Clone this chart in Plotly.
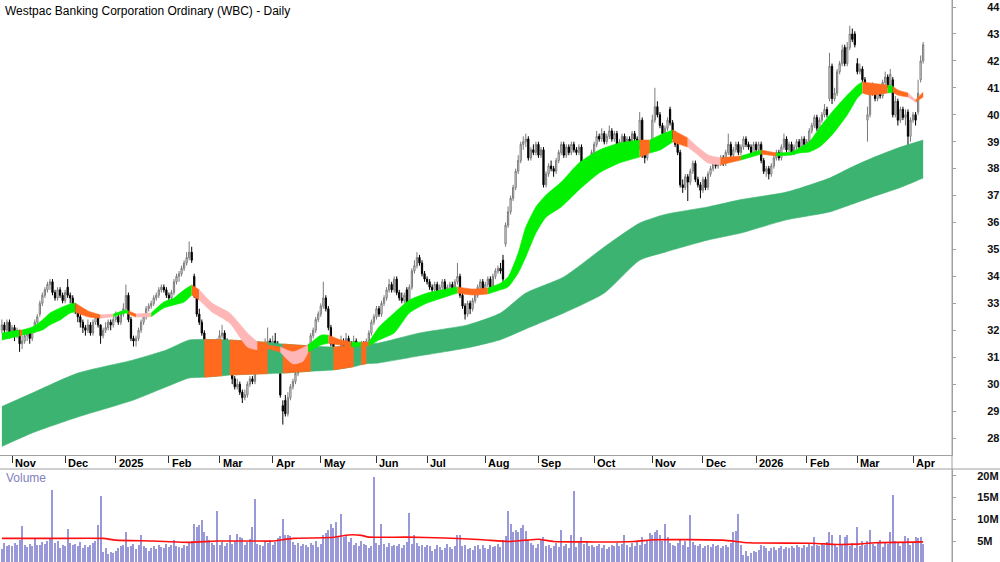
import pandas as pd
import plotly.graph_objects as go

# ---------------- calendar ----------------
holidays = ["2024-12-25", "2024-12-26", "2025-01-01", "2025-01-27", "2025-04-18",
            "2025-04-21", "2025-04-25", "2025-06-09", "2025-12-25", "2025-12-26",
            "2026-01-01", "2026-01-26", "2026-04-03", "2026-04-06"]
dates = pd.bdate_range("2024-10-28", "2026-04-09", freq="C", holidays=holidays)

month_labels = ["Nov", "Dec", "2025", "Feb", "Mar", "Apr", "May", "Jun", "Jul", "Aug",
                "Sep", "Oct", "Nov", "Dec", "2026", "Feb", "Mar", "Apr"]

# ---------------- daily OHLC (AUD) ----------------
opens = [
    32.0, 32.2, 32.0, 32.3, 31.9, 32.1, 31.8, 32.0, 31.5, 31.6,
    31.8, 31.9, 31.7, 32.0, 32.3, 32.6, 33.0, 33.3, 33.5, 33.7,
    33.8, 33.4, 33.2, 33.5, 33.3, 33.1, 33.6, 33.3, 33.2, 32.9,
    32.8, 32.5, 32.3, 32.1, 32.0, 32.2, 31.9, 32.3, 32.5, 32.2,
    31.8, 32.0, 32.1, 32.3, 32.2, 32.4, 32.5, 32.3, 32.6, 32.8,
    33.3, 32.4, 31.7, 31.6, 31.7, 32.0, 32.3, 32.5, 32.8, 32.9,
    33.0, 33.2, 33.3, 33.5, 33.6, 33.5, 33.3, 33.2, 33.4, 33.8,
    34.0, 34.1, 34.3, 34.5, 34.7, 34.9, 34.0, 33.4, 32.6, 32.3,
    31.9, 31.3, 31.0, 31.2, 31.4, 31.3, 31.5, 31.8, 31.9, 31.6,
    31.0, 30.5, 30.2, 29.9, 30.0, 29.7, 29.5, 29.6, 30.0, 30.2,
    30.1, 30.6, 30.8, 31.2, 31.4, 31.5, 31.6, 31.3, 31.6, 31.5,
    30.4, 29.2, 29.4, 28.9, 29.5, 29.9, 30.1, 30.4, 30.7, 31.0,
    31.2, 31.0, 31.4, 31.8, 32.0, 32.4, 32.6, 32.9, 33.2, 32.8,
    32.1, 31.5, 31.0, 30.9, 31.3, 31.6, 31.4, 31.7, 31.5, 31.3,
    31.6, 31.4, 31.2, 31.5, 31.3, 31.6, 31.9, 32.3, 32.5, 32.8,
    32.6, 33.0, 33.2, 33.5, 33.7, 33.5, 33.9, 33.4, 33.2, 33.1,
    33.5, 32.8, 33.6, 34.2, 34.4, 34.7, 34.5, 34.1, 33.9, 33.8,
    33.6, 33.5, 33.7, 33.4, 33.6, 33.8, 33.5, 33.6, 33.7, 33.5,
    33.8, 34.0, 33.3, 32.9, 32.6, 33.0, 32.8, 33.1, 33.3, 33.6,
    33.8, 33.5, 33.7, 33.9, 33.6, 34.0, 34.2, 34.3, 34.6, 35.2,
    35.9, 36.4, 36.9, 37.3, 37.9, 38.3, 38.9, 39.0, 39.1, 38.4,
    38.7, 38.6, 38.9, 38.5, 38.7, 37.4, 37.8, 38.1, 38.0, 37.9,
    38.3, 38.6, 38.9, 38.5, 38.8, 38.6, 38.9, 38.7, 38.6, 38.8,
    37.7, 37.9, 38.2, 38.1, 38.6, 38.9, 39.2, 39.1, 39.3, 39.0,
    39.2, 39.4, 39.1, 39.3, 38.5, 39.0, 39.2, 38.9, 39.1, 39.0,
    39.3, 39.1, 38.8, 39.8, 38.5, 38.4, 38.7, 38.9, 39.8, 40.3,
    40.0, 39.6, 39.3, 39.5, 40.2, 39.7, 39.2, 38.9, 38.6, 37.4,
    37.3, 37.7, 37.5, 37.9, 38.2, 37.6, 37.4, 37.2, 37.6, 37.3,
    37.8, 38.0, 38.3, 38.1, 38.2, 38.4, 38.2, 38.6, 38.9, 38.5,
    38.7, 38.9, 38.6, 38.8, 39.1, 38.9, 38.8, 38.6, 38.9, 38.7,
    38.9, 38.3, 37.9, 38.0, 37.8, 38.1, 38.4, 38.6, 38.4, 38.8,
    39.1, 38.7, 38.9, 38.6, 38.8, 39.0, 38.8, 39.1, 38.9, 39.0,
    39.4, 39.6, 39.9, 39.5, 39.8, 40.0, 40.2, 40.6, 41.8, 40.6,
    40.8, 41.6, 41.9, 42.5, 41.9, 42.5, 43.0, 43.0, 41.9, 41.6,
    41.7, 41.3, 39.8, 40.0, 40.8, 41.0, 40.6, 40.9, 40.7, 41.2,
    41.4, 41.1, 41.3, 40.0, 40.5, 39.8, 40.2, 39.9, 40.1, 39.2,
    39.8, 40.0, 40.1, 41.3, 42.0,
]
highs = [
    32.4, 32.3, 32.4, 32.4, 32.2, 32.2, 32.1, 32.0, 31.8, 31.9,
    32.0, 32.0, 32.1, 32.4, 32.6, 33.1, 33.4, 33.6, 33.8, 33.9,
    33.9, 33.5, 33.6, 33.6, 33.4, 33.5, 33.9, 33.4, 33.3, 33.0,
    32.9, 32.6, 32.4, 32.2, 32.4, 32.3, 32.4, 32.6, 32.6, 32.2,
    32.1, 32.3, 32.4, 32.4, 32.5, 32.7, 32.6, 32.7, 33.0, 33.7,
    33.4, 32.5, 31.8, 31.8, 32.1, 32.4, 32.6, 32.9, 33.0, 33.1,
    33.3, 33.4, 33.6, 33.7, 33.7, 33.6, 33.4, 33.5, 33.9, 34.1,
    34.2, 34.4, 34.6, 34.9, 35.3, 35.1, 34.1, 33.5, 32.8, 32.4,
    32.0, 31.5, 31.4, 31.6, 31.5, 31.7, 32.0, 32.2, 32.0, 31.7,
    31.1, 30.6, 30.3, 30.2, 30.1, 29.8, 29.8, 30.1, 30.3, 30.3,
    30.7, 30.9, 31.3, 31.5, 31.7, 32.1, 31.7, 31.8, 31.9, 31.6,
    30.5, 29.4, 29.6, 29.7, 30.0, 30.2, 30.5, 30.8, 31.1, 31.3,
    31.3, 31.5, 31.9, 32.1, 32.5, 32.7, 33.0, 33.8, 33.3, 32.9,
    32.2, 31.6, 31.1, 31.4, 31.8, 31.7, 31.9, 31.8, 31.6, 31.8,
    31.7, 31.5, 31.6, 31.6, 31.7, 32.0, 32.4, 32.6, 32.9, 32.9,
    33.1, 33.3, 33.6, 33.9, 33.8, 34.0, 34.0, 33.5, 33.4, 33.4,
    33.6, 33.7, 34.3, 34.6, 34.9, 34.8, 34.6, 34.2, 34.0, 33.9,
    33.7, 33.8, 33.8, 33.7, 33.9, 33.9, 33.7, 33.8, 33.8, 33.9,
    34.5, 34.1, 33.4, 33.0, 33.1, 33.1, 33.2, 33.4, 33.7, 33.9,
    33.9, 33.8, 34.0, 34.0, 34.1, 34.3, 34.4, 34.5, 34.8, 36.0,
    36.6, 37.0, 37.4, 38.0, 38.5, 39.0, 39.2, 39.3, 39.2, 38.8,
    38.9, 39.0, 39.0, 38.8, 38.8, 37.9, 38.2, 38.3, 38.1, 38.4,
    38.7, 39.0, 39.0, 38.9, 38.9, 39.0, 39.0, 38.8, 38.9, 38.9,
    38.0, 38.3, 38.3, 38.7, 39.0, 39.4, 39.3, 39.5, 39.4, 39.3,
    39.6, 39.5, 39.4, 39.4, 39.1, 39.3, 39.3, 39.2, 39.2, 39.4,
    39.4, 39.2, 40.1, 39.9, 38.7, 38.8, 39.0, 40.0, 41.0, 40.5,
    40.1, 39.7, 39.6, 39.9, 40.3, 39.8, 39.4, 39.0, 38.7, 37.6,
    37.8, 37.8, 38.0, 38.3, 38.3, 37.7, 37.5, 37.7, 37.7, 37.9,
    38.1, 38.4, 38.4, 38.3, 38.5, 38.5, 38.7, 39.3, 39.0, 38.8,
    39.0, 39.0, 38.9, 39.2, 39.2, 39.0, 38.9, 39.0, 39.0, 39.0,
    39.0, 38.4, 38.1, 38.1, 38.2, 38.5, 38.7, 38.7, 38.9, 39.3,
    39.2, 39.0, 39.0, 38.9, 39.1, 39.1, 39.2, 39.2, 39.1, 39.5,
    39.7, 40.0, 40.0, 39.9, 40.1, 40.4, 40.3, 42.3, 41.9, 41.0,
    41.7, 42.0, 42.6, 42.6, 42.7, 43.3, 43.2, 43.1, 42.1, 41.9,
    41.8, 41.4, 40.3, 41.0, 41.2, 41.1, 41.0, 41.0, 41.3, 41.6,
    41.5, 41.7, 41.4, 40.7, 40.6, 40.3, 40.3, 40.2, 40.2, 39.9,
    40.1, 40.1, 41.3, 42.2, 42.7,
]
lows = [
    31.9, 31.8, 31.9, 31.7, 31.8, 31.6, 31.7, 31.2, 31.3, 31.5,
    31.6, 31.5, 31.6, 31.9, 32.2, 32.5, 32.9, 33.2, 33.4, 33.5,
    33.3, 33.1, 33.1, 33.2, 33.0, 33.0, 33.2, 33.0, 32.8, 32.6,
    32.3, 32.1, 31.9, 31.8, 31.9, 31.8, 31.8, 32.2, 32.1, 31.5,
    31.7, 31.9, 32.0, 32.0, 32.1, 32.3, 32.2, 32.2, 32.5, 32.7,
    32.3, 31.6, 31.4, 31.4, 31.6, 31.9, 32.2, 32.4, 32.7, 32.8,
    32.9, 33.1, 33.2, 33.4, 33.4, 33.2, 33.1, 33.1, 33.3, 33.7,
    33.8, 34.0, 34.2, 34.4, 34.6, 34.5, 33.2, 32.5, 32.2, 31.8,
    31.2, 30.9, 30.9, 31.1, 31.1, 31.2, 31.4, 31.7, 31.5, 30.9,
    30.4, 30.0, 29.8, 29.8, 29.6, 29.3, 29.4, 29.5, 29.9, 30.0,
    30.0, 30.5, 30.7, 31.1, 31.3, 31.4, 31.2, 31.2, 31.4, 30.9,
    29.5, 28.5, 28.8, 28.8, 29.4, 29.8, 30.0, 30.3, 30.6, 30.9,
    30.9, 30.9, 31.3, 31.7, 31.9, 32.3, 32.5, 32.8, 32.7, 32.0,
    31.4, 30.6, 30.7, 30.8, 31.2, 31.3, 31.3, 31.4, 31.2, 31.2,
    31.3, 31.1, 31.1, 31.2, 31.2, 31.5, 31.8, 32.2, 32.4, 32.5,
    32.5, 32.9, 33.1, 33.4, 33.4, 33.4, 33.3, 33.1, 33.0, 33.0,
    32.7, 32.7, 33.5, 34.1, 34.3, 34.4, 34.0, 33.8, 33.7, 33.5,
    33.4, 33.4, 33.3, 33.3, 33.5, 33.4, 33.4, 33.5, 33.4, 33.4,
    33.7, 33.2, 32.8, 32.4, 32.5, 32.6, 32.7, 33.0, 33.2, 33.5,
    33.4, 33.4, 33.6, 33.5, 33.5, 33.9, 34.1, 34.1, 33.8, 35.1,
    35.8, 36.3, 36.8, 37.2, 37.8, 38.2, 38.7, 38.8, 38.3, 38.3,
    38.5, 38.5, 38.4, 38.4, 37.3, 37.3, 37.7, 37.9, 37.7, 37.8,
    38.2, 38.5, 38.4, 38.4, 38.5, 38.5, 38.6, 38.5, 38.5, 37.6,
    37.6, 37.8, 38.0, 38.0, 38.5, 38.8, 39.0, 39.0, 38.9, 38.9,
    39.1, 39.0, 39.0, 38.4, 38.4, 38.9, 38.8, 38.8, 38.9, 38.9,
    39.0, 38.7, 38.7, 38.4, 38.2, 38.3, 38.6, 38.8, 39.7, 39.9,
    39.5, 39.2, 39.2, 39.4, 39.6, 39.1, 38.8, 38.5, 37.3, 37.1,
    37.2, 36.8, 37.4, 37.8, 37.5, 37.3, 36.9, 37.1, 37.2, 37.2,
    37.7, 37.9, 38.0, 38.0, 38.1, 38.1, 38.1, 38.5, 38.4, 38.4,
    38.6, 38.5, 38.5, 38.7, 38.8, 38.7, 38.5, 38.5, 38.6, 38.6,
    38.2, 37.8, 37.7, 37.6, 37.7, 38.0, 38.3, 38.3, 38.3, 38.7,
    38.6, 38.6, 38.5, 38.5, 38.7, 38.7, 38.7, 38.8, 38.8, 38.9,
    39.3, 39.5, 39.4, 39.4, 39.7, 39.9, 39.9, 40.5, 40.4, 40.5,
    40.7, 41.5, 41.8, 41.8, 41.8, 42.4, 42.7, 42.5, 41.5, 41.5,
    41.2, 40.9, 39.0, 39.9, 40.7, 40.5, 40.5, 40.6, 40.6, 41.1,
    41.0, 41.0, 39.9, 39.9, 39.6, 39.7, 39.8, 39.6, 38.6, 39.0,
    39.7, 39.6, 40.0, 41.2, 41.9,
]
closes = [
    32.2, 32.0, 32.3, 31.9, 32.1, 31.8, 32.0, 31.5, 31.6, 31.8,
    31.9, 31.7, 32.0, 32.3, 32.5, 33.0, 33.3, 33.5, 33.7, 33.8,
    33.4, 33.2, 33.5, 33.3, 33.1, 33.4, 33.3, 33.2, 32.9, 32.8,
    32.5, 32.3, 32.1, 32.0, 32.2, 31.9, 32.3, 32.5, 32.2, 31.8,
    32.0, 32.1, 32.3, 32.2, 32.4, 32.5, 32.3, 32.6, 32.8, 33.3,
    32.4, 31.7, 31.6, 31.7, 32.0, 32.3, 32.5, 32.8, 32.9, 33.0,
    33.2, 33.3, 33.5, 33.6, 33.5, 33.3, 33.2, 33.4, 33.8, 34.0,
    34.1, 34.3, 34.5, 34.7, 34.9, 34.6, 33.4, 32.6, 32.3, 31.9,
    31.3, 31.0, 31.2, 31.4, 31.3, 31.5, 31.8, 31.9, 31.6, 31.0,
    30.5, 30.2, 29.9, 30.0, 29.7, 29.5, 29.6, 30.0, 30.2, 30.1,
    30.6, 30.8, 31.2, 31.4, 31.5, 31.6, 31.3, 31.6, 31.5, 31.0,
    29.6, 29.0, 28.9, 29.5, 29.9, 30.1, 30.4, 30.7, 31.0, 31.2,
    31.0, 31.4, 31.8, 32.0, 32.4, 32.6, 32.9, 33.2, 32.8, 32.1,
    31.5, 31.0, 30.9, 31.3, 31.6, 31.4, 31.7, 31.5, 31.3, 31.6,
    31.4, 31.2, 31.5, 31.3, 31.6, 31.9, 32.3, 32.5, 32.8, 32.6,
    33.0, 33.2, 33.5, 33.7, 33.5, 33.9, 33.4, 33.2, 33.1, 33.3,
    32.8, 33.6, 34.2, 34.4, 34.7, 34.5, 34.1, 33.9, 33.8, 33.6,
    33.5, 33.7, 33.4, 33.6, 33.8, 33.5, 33.6, 33.7, 33.5, 33.8,
    34.0, 33.3, 32.9, 32.6, 33.0, 32.8, 33.1, 33.3, 33.6, 33.8,
    33.5, 33.7, 33.9, 33.6, 34.0, 34.2, 34.3, 34.2, 33.9, 35.9,
    36.4, 36.9, 37.3, 37.9, 38.3, 38.9, 39.0, 39.1, 38.4, 38.7,
    38.6, 38.9, 38.5, 38.7, 37.4, 37.8, 38.1, 38.0, 37.9, 38.3,
    38.6, 38.9, 38.5, 38.8, 38.6, 38.9, 38.7, 38.6, 38.8, 37.7,
    37.9, 38.2, 38.1, 38.6, 38.9, 39.2, 39.1, 39.3, 39.0, 39.2,
    39.4, 39.1, 39.3, 38.5, 39.0, 39.2, 38.9, 39.1, 39.0, 39.3,
    39.1, 38.8, 39.8, 38.5, 38.4, 38.7, 38.9, 39.8, 40.3, 40.0,
    39.6, 39.3, 39.5, 39.8, 39.7, 39.2, 38.9, 38.6, 37.4, 37.3,
    37.7, 37.5, 37.9, 38.2, 37.6, 37.4, 37.2, 37.6, 37.3, 37.8,
    38.0, 38.3, 38.1, 38.2, 38.4, 38.2, 38.6, 38.9, 38.5, 38.7,
    38.9, 38.6, 38.8, 39.1, 38.9, 38.8, 38.6, 38.9, 38.7, 38.9,
    38.3, 37.9, 38.0, 37.8, 38.1, 38.4, 38.6, 38.4, 38.8, 39.1,
    38.7, 38.9, 38.6, 38.8, 39.0, 38.8, 39.1, 38.9, 39.0, 39.4,
    39.6, 39.9, 39.5, 39.8, 40.0, 40.2, 40.0, 41.8, 40.6, 40.8,
    41.6, 41.9, 42.4, 41.9, 42.5, 43.0, 42.8, 42.6, 41.6, 41.7,
    41.3, 41.0, 40.0, 40.8, 41.0, 40.6, 40.9, 40.7, 41.2, 41.4,
    41.1, 41.5, 40.0, 40.5, 39.8, 40.2, 39.9, 40.0, 39.2, 39.8,
    40.0, 39.8, 40.8, 42.0, 42.6,
]

# ---------------- daily volume (millions of shares) ----------------
volume_m = [
    3.2, 4.5, 3.8, 4.2, 3.9, 4.6, 4.0, 5.2, 8.4, 4.1,
    3.6, 4.4, 3.9, 5.5, 4.2, 4.0, 4.8, 4.3, 5.0, 5.8,
    16.7, 4.5, 4.9, 3.5, 4.1, 3.8, 7.7, 4.6, 4.0, 4.4,
    3.9, 4.7, 3.5, 4.1, 3.7, 4.2, 4.5, 4.9, 8.7, 15.3,
    2.5, 3.4, 2.0, 2.4, 2.2, 2.6, 3.5, 3.9, 4.2, 7.0,
    3.6, 3.9, 4.3, 3.2, 4.1, 6.3, 3.8, 3.3, 2.8, 3.5,
    3.9, 3.1, 4.2, 3.6, 3.3, 4.4, 3.7, 4.0, 5.2, 3.9,
    3.6, 3.4, 4.0, 3.8, 4.6, 5.0, 8.8, 8.2, 8.6, 9.8,
    7.0, 6.2, 5.3, 4.6, 4.2, 11.9, 4.0, 4.8, 3.9, 4.5,
    6.5, 4.4, 5.0, 6.7, 6.0, 5.6, 4.2, 4.8, 5.4, 8.2,
    14.6, 4.4, 4.0, 3.8, 4.9, 4.5, 5.2, 4.1, 4.8, 5.6,
    6.2, 10.0, 6.3, 6.5, 6.2, 4.8, 4.2, 4.6, 3.9, 4.3,
    4.0, 3.7, 4.5, 4.1, 4.9, 3.6, 4.4, 6.5, 6.8, 7.5,
    9.0, 8.0, 9.3, 6.0, 11.2, 6.0, 6.5, 4.8, 5.8, 4.2,
    4.6, 3.9, 5.0, 4.4, 4.1, 3.3, 3.9, 19.7, 4.5, 4.0,
    8.9, 4.3, 3.7, 4.5, 3.9, 4.2, 3.8, 4.4, 3.5, 4.0,
    4.7, 11.4, 4.3, 6.3, 4.5, 3.9, 4.1, 3.6, 4.2, 3.8,
    2.7, 3.2, 4.1, 3.7, 2.9, 3.3, 4.4, 3.6, 3.1, 3.9,
    6.3, 6.3, 3.8, 4.0, 3.2, 3.5, 2.9, 3.8, 4.2, 3.1,
    4.0, 3.4, 3.2, 4.1, 3.6, 3.9, 4.3, 3.7, 5.3, 6.1,
    12.0, 9.0, 7.0, 7.5, 7.0, 8.0, 8.6, 7.3, 5.2, 4.6,
    4.2, 3.5, 4.4, 5.2, 6.0, 3.8, 4.1, 3.5, 3.9, 4.6,
    3.7, 7.5, 3.9, 4.3, 3.4, 6.3, 16.4, 3.6, 4.8, 6.0,
    4.3, 4.9, 3.8, 4.1, 3.6, 3.9, 4.4, 3.4, 4.0, 3.2,
    3.7, 4.2, 3.9, 4.6, 3.8, 4.3, 6.4, 4.0, 3.6, 4.5,
    3.9, 4.8, 4.2, 6.0, 4.4, 5.1, 6.8, 6.5, 7.0, 7.5,
    6.5, 5.0, 9.0, 6.0, 4.5, 4.0, 3.8, 4.6, 5.4, 4.1,
    4.9, 3.6, 11.0, 4.7, 4.1, 3.8, 4.3, 3.4, 3.9, 4.2,
    3.6, 4.4, 3.9, 4.1, 3.5, 3.8, 4.2, 3.6, 4.5, 7.0,
    7.2, 11.1, 4.0, 1.8, 2.6, 1.5, 2.2, 2.8, 2.5, 3.0,
    4.2, 3.9, 3.5, 2.8, 3.3, 3.6, 2.9, 3.4, 3.8, 3.1,
    3.6, 3.3, 3.9, 3.5, 4.0, 3.7, 3.4, 4.1, 3.6, 4.3,
    3.9, 6.0, 4.2, 3.8, 4.5, 4.1, 4.8, 7.0, 6.3, 4.4,
    3.6, 6.5, 4.2, 6.0, 6.5, 3.9, 4.6, 3.4, 8.2, 3.8,
    4.9, 4.2, 5.0, 7.5, 4.3, 3.9, 4.7, 5.2, 3.6, 4.8,
    4.4, 7.0, 15.6, 5.1, 4.5, 3.9, 4.6, 6.1, 5.8, 4.0,
    4.5, 6.0, 5.6, 6.0, 4.4,
]

# volume moving-average line (day index, millions)
vma_day = [0, 20, 40, 45, 60, 74, 85, 100, 107, 115, 130, 137, 142, 145, 160, 175,
           190, 200, 207, 212, 218, 230, 250, 258, 285, 295, 320, 330, 338, 345, 364]
vma_val = [5.6, 5.6, 5.6, 5.2, 5.0, 4.7, 5.0, 5.0, 5.0, 5.6, 5.8, 6.4, 6.3, 5.9, 5.9, 5.7,
           5.3, 4.9, 5.2, 5.4, 4.9, 4.8, 4.9, 5.3, 5.2, 4.6, 4.5, 4.2, 4.3, 4.6, 4.8]

# long-term MA band (day index, upper, lower)
lb_day = [0, 12, 30, 52, 65, 74, 80, 87, 90, 105, 111, 122, 131, 139, 142, 144, 149,
          165, 184, 197, 207, 222, 238, 252, 262, 279, 292, 310, 327, 335, 344, 355, 364]
lb_top = [29.17, 29.67, 30.41, 30.90, 31.27, 31.64, 31.66, 31.65, 31.64, 31.55, 31.49,
          31.42, 31.38, 31.42, 31.46, 31.50, 31.53, 31.90, 32.20, 32.64, 33.38, 33.98,
          35.09, 35.98, 36.30, 36.58, 36.85, 37.13, 37.65, 38.02, 38.40, 38.80, 39.06]
lb_bot = [27.69, 28.19, 28.78, 29.41, 29.90, 30.23, 30.26, 30.31, 30.34, 30.39, 30.41,
          30.48, 30.53, 30.65, 30.72, 30.76, 30.79, 31.05, 31.35, 31.65, 32.05, 32.64,
          33.38, 34.60, 34.90, 35.35, 35.61, 36.10, 36.39, 36.65, 36.95, 37.30, 37.65]
# periods where long band is shown in orange (start day, end day)
lb_orange = [(80, 87), (90, 105), (111, 122), (131, 139), (142, 144)]

# short-term MA ribbon (day index, upper, lower, state of following stretch)
st_day = [0, 7, 8, 12, 16, 19, 23, 27, 29, 34, 39, 44, 49, 50, 53, 59, 64, 68, 72, 75,
          78, 83, 90, 97, 101, 105, 110, 115, 119, 121, 126, 129, 134, 138, 142, 145, 149,
          155, 161, 168, 174, 180, 186, 192, 197, 200, 204, 207, 211, 215, 221, 228, 236,
          244, 252, 256, 260, 265, 271, 275, 279, 284, 292, 300, 306, 312, 315, 319, 323,
          328, 334, 338, 340, 343, 350, 352, 354, 358, 361, 364]
st_top = [31.90, 32.01, 32.01, 32.12, 32.38, 32.64, 32.83, 32.98, 33.01, 32.72,
          32.57, 32.60, 32.75, 32.72, 32.60, 32.64, 33.05, 33.20, 33.50, 33.68,
          33.50, 33.01, 32.64, 31.90, 31.56, 31.45, 31.38, 31.20, 31.35, 31.45,
          31.82, 31.82, 31.64, 31.56, 31.56, 31.56, 32.12, 32.64, 33.12, 33.38,
          33.50, 33.61, 33.53, 33.57, 33.75, 33.98, 34.87, 35.83, 36.58, 37.02,
          37.50, 38.21, 38.69, 38.95, 39.06, 39.06, 39.25, 39.43, 39.14, 38.80,
          38.51, 38.40, 38.47, 38.69, 38.58, 38.62, 38.77, 38.99, 39.51, 40.10,
          40.73, 41.10, 41.22, 41.18, 41.10, 41.06, 40.92, 40.81, 40.55, 40.84]
st_bot = [31.64, 31.79, 31.82, 31.90, 32.01, 32.20, 32.38, 32.64, 32.68, 32.50,
          32.45, 32.50, 32.64, 32.60, 32.49, 32.50, 32.83, 32.94, 33.05, 33.31,
          33.12, 32.68, 32.27, 31.38, 31.27, 31.31, 31.19, 30.75, 30.85, 31.19,
          31.45, 31.52, 31.45, 31.38, 31.42, 31.42, 31.64, 31.90, 32.64, 33.01,
          33.20, 33.38, 33.31, 33.35, 33.50, 33.61, 34.13, 34.72, 35.61, 36.20,
          36.58, 37.21, 37.84, 38.21, 38.43, 38.58, 38.69, 38.99, 38.80, 38.51,
          38.21, 38.14, 38.32, 38.54, 38.47, 38.51, 38.58, 38.62, 38.80, 39.25,
          39.99, 40.62, 40.81, 40.73, 40.81, 40.84, 40.73, 40.66, 40.47, 40.66]
st_state = list("goggggggoo" "pggopggggo" "ppppoopppg" "googoggggg"
                "googgggggg" "ggggoggopp" "pogogggggg" "ggoogoopoo")

price_ticks = list(range(28, 45))
vol_ticks = [5, 10, 15, 20]
vol_tick_text = ["5M", "10M", "15M", "20M"]

# ---------------- styling ----------------
FONT = "Liberation Sans, Arial, sans-serif"
W, H = 1000, 562
PLOT_R = 952
C_LONG = "#3cb371"
STATE_COL = {"g": "#00f000", "o": "#ff6a1f", "p": "#ffb6b6"}

n = min(len(dates), len(opens), len(highs), len(lows), len(closes), len(volume_m))
days = list(range(n))

fig = go.Figure()


def add_band(xs, top, bot, color, smooth):
    shape = "spline" if smooth else "linear"
    fig.add_trace(go.Scatter(x=xs, y=bot, mode="lines", hoverinfo="skip",
                             line=dict(width=0.6, color=color, shape=shape, smoothing=0.6),
                             xaxis="x", yaxis="y"))
    fig.add_trace(go.Scatter(x=xs, y=top, mode="lines", hoverinfo="skip", fill="tonexty",
                             fillcolor=color,
                             line=dict(width=0.6, color=color, shape=shape, smoothing=0.6),
                             xaxis="x", yaxis="y"))


# long band
add_band(lb_day, lb_top, lb_bot, C_LONG, True)
for a, b in lb_orange:
    sel = [k for k, d in enumerate(lb_day) if a <= d <= b]
    add_band([lb_day[k] for k in sel], [lb_top[k] for k in sel],
             [lb_bot[k] for k in sel], STATE_COL["o"], False)

# short ribbon, grouped by state
k = 0
m = len(st_day)
while k < m - 1:
    s = st_state[k]
    e = k
    while e < m - 1 and st_state[e] == s:
        e += 1
    add_band(st_day[k:e + 1], st_top[k:e + 1], st_bot[k:e + 1], STATE_COL[s], True)
    k = e

# candles
fig.add_trace(go.Candlestick(x=days, open=opens[:n], high=highs[:n], low=lows[:n],
                             close=closes[:n],
                             increasing=dict(line=dict(color="#7a7a7a", width=1),
                                             fillcolor="#ffffff"),
                             decreasing=dict(line=dict(color="#000000", width=1),
                                             fillcolor="#000000"),
                             whiskerwidth=0, xaxis="x", yaxis="y"))

# volume
fig.add_trace(go.Bar(x=days, y=volume_m[:n], marker=dict(color="#9999d9", line=dict(width=0)),
                     width=0.42, xaxis="x2", yaxis="y2"))
fig.add_trace(go.Scatter(x=vma_day, y=vma_val, mode="lines",
                         line=dict(color="#ff1010", width=1.6, shape="spline", smoothing=0.5),
                         xaxis="x2", yaxis="y2"))

# ---------------- layout ----------------
month_first = pd.Series(range(len(dates)), index=dates).groupby(
    [dates.year, dates.month]).min().tolist()[1:]
month_first = month_first[:len(month_labels)]

x_lo = -1.875 / 2.531
x_hi = (PLOT_R - 1.875) / 2.531
price_lo = 44 - (455 - 7) / 26.94
price_hi = 44 + 7 / 26.94
vol_hi = (562.8 - 469) / 4.353
vol_lo = (562.8 - 562) / 4.353

fig.update_layout(
    width=W, height=H, template="none",
    margin=dict(l=0, r=W - PLOT_R, t=0, b=0),
    paper_bgcolor="white", plot_bgcolor="white", showlegend=False,
    bargap=0,
    xaxis=dict(domain=[0, 1], range=[x_lo, x_hi], anchor="y",
               rangeslider=dict(visible=False), showgrid=False, zeroline=False,
               showline=True, linecolor="#a0a0a0", linewidth=1,
               tickmode="array", tickvals=month_first, showticklabels=False,
               ticks="outside", ticklen=7, tickcolor="#333333", tickwidth=1),
    xaxis2=dict(domain=[0, 1], range=[x_lo, x_hi], anchor="y2", matches="x",
                showgrid=False, zeroline=False, showline=False, showticklabels=False,
                ticks=""),
    yaxis=dict(domain=[1 - 455 / H, 1], range=[price_lo, price_hi], side="right",
               anchor="x", showgrid=False, zeroline=False, showline=True,
               linecolor="#a0a0a0", linewidth=1, tickmode="array",
               tickvals=price_ticks, ticktext=[f"<b>{v}</b>" for v in price_ticks],
               ticks="outside", ticklen=3, tickcolor="#a0a0a0",
               tickfont=dict(family=FONT, size=11, color="#111111"),
               ticklabelstandoff=29),
    yaxis2=dict(domain=[0, 1 - 469 / H], range=[vol_lo, vol_hi], side="right",
                anchor="x2", showgrid=False, zeroline=False, showline=True,
                linecolor="#a0a0a0", linewidth=1, tickmode="array",
                tickvals=vol_ticks, ticktext=[f"<b>{t}</b>" for t in vol_tick_text],
                ticks="outside", ticklen=3, tickcolor="#a0a0a0",
                tickfont=dict(family=FONT, size=11, color="#111111"),
                ticklabelstandoff=19),
)

annotations = [
    dict(text="Westpac Banking Corporation Ordinary (WBC) - Daily", xref="paper", yref="paper",
         x=0.003, y=1 - 2 / H, xanchor="left", yanchor="top", showarrow=False,
         font=dict(family=FONT, size=12, color="#000000")),
    dict(text="Volume", xref="paper", yref="paper", x=0.004, y=1 - 478 / H,
         xanchor="left", yanchor="middle", showarrow=False,
         font=dict(family=FONT, size=12, color="#8080c0")),
]
for pos, lab in zip(month_first, month_labels):
    annotations.append(dict(text=f"<b>{lab}</b>", xref="x", yref="paper", x=pos,
                            y=1 - 462.5 / H, xanchor="left", yanchor="middle",
                            xshift=1, showarrow=False,
                            font=dict(family=FONT, size=11, color="#000000")))
fig.update_layout(annotations=annotations)

fig.update_layout(shapes=[
    dict(type="line", xref="paper", yref="paper", x0=1, x1=1, y0=0, y1=1,
         line=dict(color="#a0a0a0", width=1)),
    dict(type="line", xref="paper", yref="paper", x0=0, x1=W / PLOT_R,
         y0=1 - 469 / H, y1=1 - 469 / H, line=dict(color="#a0a0a0", width=1)),
])

fig.write_html("out.html")
